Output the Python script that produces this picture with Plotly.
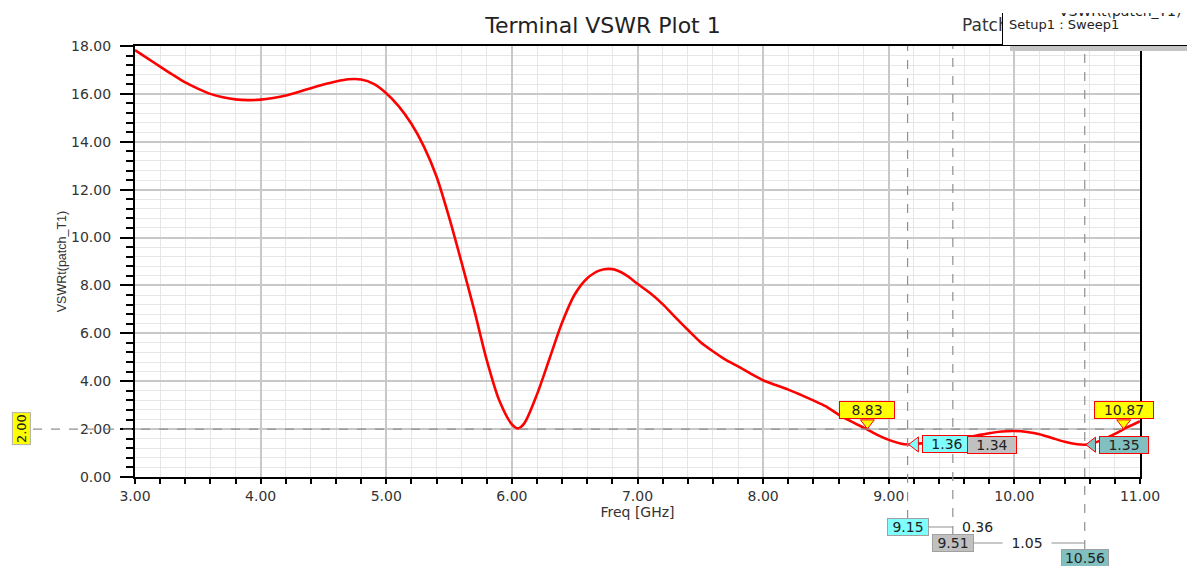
import plotly.graph_objects as go

# ---------------- data ----------------
freq = [3.0, 3.1, 3.2, 3.3, 3.4, 3.5, 3.6, 3.7, 3.8, 3.9, 4.0, 4.1, 4.2, 4.3, 4.4, 4.5,
        4.6, 4.7, 4.8, 4.9, 5.0, 5.1, 5.2, 5.3, 5.4, 5.5, 5.6, 5.7, 5.8, 5.9, 6.0, 6.05,
        6.1, 6.2, 6.3, 6.4, 6.5, 6.6, 6.7, 6.8, 6.9, 7.0, 7.1, 7.2, 7.3, 7.4, 7.5, 7.6,
        7.7, 7.8, 7.9, 8.0, 8.1, 8.2, 8.3, 8.4, 8.5, 8.6, 8.7, 8.8, 8.9, 9.0, 9.1, 9.15,
        9.2, 9.3, 9.4, 9.5, 9.6, 9.7, 9.8, 9.9, 10.0, 10.1, 10.2, 10.3, 10.4, 10.5, 10.56,
        10.6, 10.7, 10.8, 10.9, 11.0]
vswr = [17.83, 17.48, 17.14, 16.80, 16.48, 16.22, 16.00, 15.86, 15.77, 15.74, 15.76, 15.83,
        15.93, 16.08, 16.24, 16.39, 16.52, 16.61, 16.60, 16.42, 16.03, 15.48, 14.75, 13.80,
        12.55, 10.85, 8.95, 6.98, 4.88, 3.19, 2.20, 2.03, 2.25, 3.45, 4.95, 6.45, 7.62, 8.30,
        8.63, 8.68, 8.46, 8.07, 7.68, 7.22, 6.68, 6.15, 5.64, 5.25, 4.90, 4.62, 4.32, 4.04,
        3.84, 3.65, 3.43, 3.20, 2.95, 2.61, 2.32, 2.06, 1.78, 1.55, 1.39, 1.36, 1.37, 1.43,
        1.48, 1.55, 1.64, 1.73, 1.83, 1.90, 1.92, 1.88, 1.79, 1.63, 1.47, 1.37, 1.35, 1.37,
        1.55, 1.80, 2.08, 2.33]

ref_level = 2.0
ref_label = "2.00"

cross_x = [8.83, 10.87]
cross_y = [2.0, 2.0]
cross_labels = ["8.83", "10.87"]

min_x = [9.15, 9.51, 10.56]
min_y = [1.36, 1.34, 1.35]
min_labels = ["1.36", "1.34", "1.35"]
min_x_labels = ["9.15", "9.51", "10.56"]
min_colors = ["#80ffff", "#c0c0c0", "#80c0c0"]

delta_labels = ["0.36", "1.05"]

x_ticks = [3, 4, 5, 6, 7, 8, 9, 10, 11]
x_ticktext = ["3.00", "4.00", "5.00", "6.00", "7.00", "8.00", "9.00", "10.00", "11.00"]
y_ticks = [0, 2, 4, 6, 8, 10, 12, 14, 16, 18]
y_ticktext = ["0.00", "2.00", "4.00", "6.00", "8.00", "10.00", "12.00", "14.00", "16.00", "18.00"]

# ---------------- figure ----------------
FONT = "DejaVu Sans"
W, H = 1195, 566
OFF = 8            # page (body) margin offset
PL, PT, PR, PB = 135, 46, 1140, 477   # desired plot-area pixels on screen
PW, PH = PR - PL, PB - PT


def px_x(p):   # screen pixel -> paper x
    return (p - PL) / PW


def px_y(p):   # screen pixel -> paper y
    return (PB - p) / PH


fig = go.Figure()

fig.add_trace(go.Scatter(x=freq, y=vswr, mode="lines",
                         line=dict(color="#ff0000", width=2.6, shape="spline", smoothing=0.8),
                         hoverinfo="skip", showlegend=False))

# pointers of crossing markers (downward triangles)
fig.add_trace(go.Scatter(x=cross_x, y=[v + 0.26 for v in cross_y], mode="markers",
                         marker=dict(symbol="triangle-down", size=12, color="#ffff00",
                                     line=dict(color="#ff0000", width=1)),
                         hoverinfo="skip", showlegend=False))
# pointers of minimum markers (left wedges)
fig.add_trace(go.Scatter(x=[v + 0.06 for v in min_x], y=min_y, mode="markers",
                         marker=dict(symbol="triangle-left", size=13, color=min_colors,
                                     line=dict(color="#ff0000", width=1)),
                         hoverinfo="skip", showlegend=False))

shapes = []
# horizontal reference line at 2.00
shapes.append(dict(type="line", xref="paper", yref="y", x0=px_x(33), x1=1, y0=ref_level,
                   y1=ref_level, line=dict(color="#909090", width=1.2, dash="dash"),
                   layer="above"))
# vertical marker lines
drops = [519, 535, 549]
for mx, d in zip(min_x, drops):
    shapes.append(dict(type="line", xref="x", yref="paper", x0=mx, x1=mx, y0=px_y(d), y1=1,
                       line=dict(color="#909090", width=1.2, dash="dash"), layer="above"))
# delta connectors below the axis
shapes.append(dict(type="line", xref="x", yref="paper", x0=min_x[0], x1=min_x[1],
                   y0=px_y(527), y1=px_y(527), line=dict(color="#909090", width=1)))
shapes.append(dict(type="line", xref="x", yref="paper", x0=min_x[1], x1=min_x[2],
                   y0=px_y(543), y1=px_y(543), line=dict(color="#909090", width=1)))

ann = []
# "Patch Antenna" text partially hidden by legend box
ann.append(dict(text="Patch Antenna", xref="paper", yref="paper", x=px_x(960),
                y=px_y(25), xanchor="left", yanchor="middle", showarrow=False,
                font=dict(family=FONT, size=17, color="#333333")))
# legend box shadow and box
ann.append(dict(text=" ", xref="paper", yref="paper", x=px_x(1002), y=1,
                xanchor="left", yanchor="bottom", xshift=8, yshift=-5, width=184, height=33,
                bgcolor="#c4c4c4", borderwidth=0, showarrow=False))
ann.append(dict(text=" ", xref="paper", yref="paper", x=px_x(1002), y=1,
                xanchor="left", yanchor="bottom", width=184, height=33,
                bgcolor="#ffffff", bordercolor="#000000", borderwidth=1, borderpad=0,
                showarrow=False))
ann.append(dict(text="VSWRt(patch_T1)", xref="paper", yref="paper", x=px_x(1120),
                y=px_y(11), xanchor="center", yanchor="middle", showarrow=False,
                font=dict(family=FONT, size=14, color="#222222")))
ann.append(dict(text="Setup1 : Sweep1", xref="paper", yref="paper", x=px_x(1007),
                y=px_y(25), xanchor="left", yanchor="middle", showarrow=False,
                font=dict(family=FONT, size=13, color="#222222")))
# white cover clipping the top of legend header
ann.append(dict(text=" ", xref="paper", yref="paper", x=px_x(1000), y=px_y(13),
                xanchor="left", yanchor="bottom", width=192, height=22,
                bgcolor="#ffffff", borderwidth=0, showarrow=False))

# left yellow "2.00" label
ann.append(dict(text=ref_label, xref="paper", yref="y", x=px_x(21), y=ref_level,
                xanchor="center", yanchor="middle",
                textangle=-90, showarrow=False, bgcolor="#ffff00", bordercolor="#b0b0b0",
                borderwidth=1, borderpad=1, font=dict(family=FONT, size=13, color="#222222")))

# crossing markers
for cx, cy, lab in zip(cross_x, cross_y, cross_labels):
    ann.append(dict(text=lab, x=cx, y=cy, xref="x", yref="y", yshift=19, showarrow=False,
                    xanchor="center", yanchor="middle",
                    bgcolor="#ffff00", bordercolor="#ff0000", borderwidth=1, borderpad=0,
                    width=58 if len(lab) > 4 else 54,
                    font=dict(family=FONT, size=14, color="#222222")))

# minimum markers
for mx, my, lab, col in zip(min_x, min_y, min_labels, min_colors):
    ann.append(dict(text=lab, x=mx, y=my, xref="x", yref="y", xanchor="left", yanchor="middle",
                    xshift=14, showarrow=False, bgcolor=col, bordercolor="#ff0000",
                    borderwidth=1, borderpad=0, width=48,
                    font=dict(family=FONT, size=14, color="#222222")))

# x-value boxes below the axis
centers = [527, 543, 558]
for mx, lab, col, c in zip(min_x, min_x_labels, min_colors, centers):
    ann.append(dict(text=lab, x=mx, y=px_y(c), xref="x", yref="paper", showarrow=False,
                    xanchor="center", yanchor="middle",
                    bgcolor=col, bordercolor="#a0a0a0", borderwidth=1, borderpad=0,
                    width=40 if len(lab) == 4 else 46,
                    font=dict(family=FONT, size=14, color="#222222")))
# delta texts
ann.append(dict(text=delta_labels[0], x=min_x[1], y=px_y(527), xref="x", yref="paper",
                xshift=7, xanchor="left", yanchor="middle", showarrow=False,
                font=dict(family=FONT, size=14, color="#222222")))
ann.append(dict(text=delta_labels[1], x=(min_x[1] + min_x[2]) / 2, y=px_y(543), xref="x",
                yref="paper", xshift=8, xanchor="center", yanchor="middle", showarrow=False,
                bgcolor="#ffffff", width=46,
                font=dict(family=FONT, size=14, color="#222222")))

axis_common = dict(showline=True, linecolor="#000000", linewidth=2.2, mirror=True,
                   ticks="outside", tickcolor="#000000", tickwidth=1.5,
                   showgrid=True, gridcolor="#c8c8c8", gridwidth=2, zeroline=False,
                   tickfont=dict(family=FONT, size=14, color="#333333"))

fig.update_layout(
    width=W, height=H, autosize=False,
    margin=dict(l=PL - OFF, r=W - (PR - OFF), t=PT - OFF, b=H - (PB - OFF), pad=0),
    paper_bgcolor="#ffffff", plot_bgcolor="#ffffff",
    showlegend=False,
    title=dict(text="Terminal VSWR Plot 1", x=(603 - OFF) / W, xanchor="center",
               y=1 - (25 - OFF) / H, yanchor="middle",
               font=dict(family=FONT, size=22, color="#222222")),
    xaxis=dict(range=[3, 11], tickvals=x_ticks, ticktext=x_ticktext, ticklen=5,
               minor=dict(dtick=0.2, ticks="outside", ticklen=5, tickcolor="#000000",
                          showgrid=True, gridcolor="#e6e6e6", gridwidth=1.2),
               title=dict(text="Freq [GHz]", standoff=2,
                          font=dict(family=FONT, size=14, color="#333333")),
               **axis_common),
    yaxis=dict(range=[0, 18], tickvals=y_ticks, ticktext=y_ticktext, ticklen=13,
               ticklabelstandoff=6,
               minor=dict(dtick=0.4, ticks="outside", ticklen=7, tickcolor="#000000",
                          showgrid=True, gridcolor="#e6e6e6", gridwidth=1.2),
               title=dict(text="VSWRt(patch_T1)", standoff=2,
                          font=dict(family="Liberation Sans", size=12.5, color="#333333")),
               **axis_common),
    shapes=shapes,
    annotations=ann,
)

fig.write_html("out.html")
